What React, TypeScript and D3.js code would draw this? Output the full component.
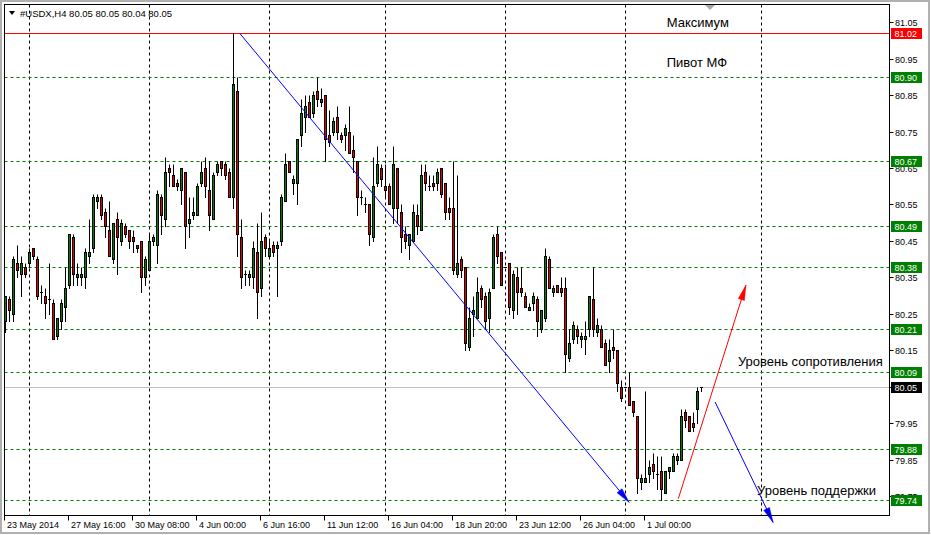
import React from "react";
import * as d3 from "d3";

const W = 931;
const H = 535;

// OHLC per H4 bar, starting 23 May 2014 00:00
const ohlc: number[][] = [
  [80.23, 80.30, 80.20, 80.30], [80.29, 80.30, 80.23, 80.26], [80.25, 80.41, 80.23, 80.40], [80.39, 80.44, 80.35, 80.37],
  [80.36, 80.41, 80.30, 80.39], [80.38, 80.39, 80.35, 80.36], [80.39, 80.43, 80.38, 80.42], [80.43, 80.43, 80.40, 80.41],
  [80.40, 80.41, 80.29, 80.30], [80.31, 80.33, 80.28, 80.31], [80.30, 80.32, 80.24, 80.28], [80.29, 80.39, 80.25, 80.29],
  [80.28, 80.29, 80.18, 80.18], [80.19, 80.24, 80.18, 80.24], [80.23, 80.29, 80.21, 80.28], [80.27, 80.38, 80.23, 80.32],
  [80.33, 80.47, 80.32, 80.47], [80.46, 80.47, 80.33, 80.36], [80.35, 80.39, 80.33, 80.36], [80.35, 80.38, 80.33, 80.36],
  [80.35, 80.43, 80.32, 80.42], [80.41, 80.51, 80.39, 80.42], [80.43, 80.58, 80.42, 80.57], [80.56, 80.58, 80.54, 80.57],
  [80.57, 80.58, 80.51, 80.52], [80.53, 80.54, 80.46, 80.49], [80.48, 80.56, 80.41, 80.41], [80.40, 80.50, 80.39, 80.50],
  [80.51, 80.53, 80.36, 80.46], [80.45, 80.51, 80.44, 80.50], [80.49, 80.50, 80.46, 80.47], [80.48, 80.48, 80.43, 80.45],
  [80.46, 80.48, 80.42, 80.45], [80.43, 80.44, 80.42, 80.44], [80.45, 80.45, 80.31, 80.35], [80.35, 80.41, 80.33, 80.40],
  [80.37, 80.47, 80.37, 80.45], [80.45, 80.47, 80.44, 80.46], [80.44, 80.59, 80.39, 80.58], [80.57, 80.58, 80.47, 80.52],
  [80.51, 80.68, 80.49, 80.64], [80.65, 80.66, 80.60, 80.64], [80.63, 80.66, 80.60, 80.60], [80.61, 80.62, 80.59, 80.60],
  [80.59, 80.65, 80.55, 80.65], [80.64, 80.64, 80.43, 80.49], [80.50, 80.57, 80.46, 80.51], [80.52, 80.57, 80.51, 80.53],
  [80.52, 80.61, 80.52, 80.60], [80.61, 80.67, 80.60, 80.64], [80.65, 80.68, 80.57, 80.60], [80.59, 80.67, 80.48, 80.52],
  [80.51, 80.64, 80.51, 80.63], [80.64, 80.67, 80.63, 80.66], [80.67, 80.67, 80.63, 80.65], [80.66, 80.67, 80.62, 80.63],
  [80.64, 80.65, 80.57, 80.57], [80.57, 81.02, 80.54, 80.88], [80.86, 80.90, 80.41, 80.47], [80.46, 80.51, 80.32, 80.35],
  [80.36, 80.37, 80.33, 80.36], [80.35, 80.37, 80.33, 80.36], [80.35, 80.45, 80.32, 80.43], [80.42, 80.50, 80.24, 80.31],
  [80.32, 80.53, 80.30, 80.45], [80.46, 80.47, 80.41, 80.43], [80.41, 80.45, 80.41, 80.43], [80.44, 80.45, 80.41, 80.42],
  [80.43, 80.45, 80.30, 80.44], [80.45, 80.58, 80.44, 80.57], [80.56, 80.69, 80.56, 80.66], [80.67, 80.67, 80.64, 80.64],
  [80.61, 80.63, 80.58, 80.62], [80.61, 80.73, 80.55, 80.73], [80.74, 80.84, 80.71, 80.80], [80.79, 80.85, 80.75, 80.82],
  [80.83, 80.85, 80.79, 80.79], [80.80, 80.86, 80.79, 80.85], [80.86, 80.90, 80.82, 80.84], [80.83, 80.87, 80.82, 80.84],
  [80.85, 80.85, 80.67, 80.73], [80.74, 80.81, 80.71, 80.72], [80.75, 80.79, 80.74, 80.78], [80.79, 80.82, 80.73, 80.75],
  [80.74, 80.75, 80.72, 80.73], [80.74, 80.77, 80.70, 80.76], [80.75, 80.82, 80.69, 80.69], [80.70, 80.74, 80.64, 80.68],
  [80.67, 80.67, 80.52, 80.57], [80.57, 80.59, 80.55, 80.57], [80.55, 80.57, 80.53, 80.55], [80.55, 80.55, 80.44, 80.47],
  [80.46, 80.68, 80.45, 80.60], [80.61, 80.71, 80.60, 80.66], [80.65, 80.66, 80.60, 80.62], [80.60, 80.66, 80.57, 80.59],
  [80.60, 80.61, 80.55, 80.55], [80.54, 80.71, 80.50, 80.66], [80.65, 80.65, 80.50, 80.54], [80.53, 80.55, 80.42, 80.46],
  [80.47, 80.49, 80.43, 80.45], [80.44, 80.47, 80.40, 80.47], [80.45, 80.55, 80.45, 80.53], [80.52, 80.55, 80.47, 80.49],
  [80.48, 80.66, 80.48, 80.63], [80.64, 80.66, 80.59, 80.61], [80.60, 80.63, 80.59, 80.60], [80.61, 80.63, 80.59, 80.60],
  [80.61, 80.65, 80.59, 80.64], [80.65, 80.65, 80.57, 80.58], [80.61, 80.61, 80.51, 80.53], [80.54, 80.57, 80.51, 80.53],
  [80.54, 80.67, 80.36, 80.37], [80.36, 80.63, 80.35, 80.39], [80.40, 80.41, 80.35, 80.37], [80.38, 80.38, 80.15, 80.17],
  [80.16, 80.27, 80.15, 80.24], [80.25, 80.30, 80.19, 80.26], [80.24, 80.35, 80.24, 80.31], [80.32, 80.33, 80.27, 80.29],
  [80.30, 80.31, 80.21, 80.23], [80.24, 80.32, 80.20, 80.31], [80.32, 80.47, 80.32, 80.46], [80.47, 80.49, 80.39, 80.41],
  [80.42, 80.42, 80.33, 80.33], [80.38, 80.38, 80.38, 80.38], [80.39, 80.39, 80.25, 80.27], [80.26, 80.37, 80.24, 80.36],
  [80.35, 80.38, 80.25, 80.31], [80.32, 80.38, 80.30, 80.31], [80.30, 80.31, 80.27, 80.27], [80.26, 80.28, 80.26, 80.27],
  [80.28, 80.31, 80.26, 80.30], [80.29, 80.30, 80.19, 80.23], [80.21, 80.26, 80.20, 80.26], [80.24, 80.43, 80.23, 80.41],
  [80.40, 80.41, 80.32, 80.32], [80.31, 80.33, 80.30, 80.32], [80.33, 80.33, 80.31, 80.31], [80.32, 80.35, 80.30, 80.31],
  [80.32, 80.35, 80.09, 80.14], [80.13, 80.21, 80.12, 80.17], [80.18, 80.23, 80.17, 80.22], [80.21, 80.22, 80.17, 80.19],
  [80.18, 80.20, 80.16, 80.19], [80.18, 80.23, 80.14, 80.19], [80.21, 80.30, 80.19, 80.30], [80.29, 80.38, 80.19, 80.21],
  [80.20, 80.24, 80.19, 80.22], [80.21, 80.22, 80.16, 80.16], [80.17, 80.18, 80.11, 80.11], [80.12, 80.18, 80.09, 80.15],
  [80.16, 80.21, 80.13, 80.15], [80.15, 80.15, 80.04, 80.06], [80.05, 80.07, 80.01, 80.02], [80.05, 80.05, 80.05, 80.05],
  [80.05, 80.09, 80.00, 80.00], [80.01, 80.01, 79.97, 79.98], [79.97, 79.97, 79.76, 79.80], [79.79, 79.81, 79.77, 79.80],
  [79.79, 80.04, 79.79, 79.80], [79.81, 79.85, 79.79, 79.83], [79.84, 79.87, 79.80, 79.82], [79.81, 79.86, 79.77, 79.81],
  [79.82, 79.86, 79.74, 79.77], [79.76, 79.82, 79.76, 79.82], [79.82, 79.83, 79.80, 79.83], [79.82, 79.87, 79.82, 79.86],
  [79.85, 79.87, 79.84, 79.86], [79.85, 79.99, 79.85, 79.97], [79.98, 79.99, 79.94, 79.96], [79.97, 79.97, 79.93, 79.93],
  [79.95, 79.98, 79.93, 79.94], [79.99, 80.05, 79.95, 80.04], [80.05, 80.05, 80.04, 80.05],
];

const maxLevel = 81.02;
const supportLevels = [80.90, 80.67, 80.49, 80.38, 80.21, 80.09, 79.88, 79.74];
const bidPrice = 80.05;
const priceTicks = [81.05, 80.95, 80.85, 80.75, 80.65, 80.55, 80.45, 80.35, 80.25, 80.15, 80.05, 79.95, 79.85, 79.75];
const timeLabels: [number, string][] = [
  [0, "23 May 2014"], [16, "27 May 16:00"], [32, "30 May 08:00"], [48, "4 Jun 00:00"],
  [64, "6 Jun 16:00"], [80, "11 Jun 12:00"], [96, "16 Jun 04:00"], [112, "18 Jun 20:00"],
  [128, "23 Jun 12:00"], [144, "26 Jun 04:00"], [160, "1 Jul 00:00"],
];
const gridBars = [6, 36, 66, 95, 125, 155, 189];
const arrowLines = [
  { from: [58.6, 81.02], to: [155.9, 79.735], color: "#0000ff" },
  { from: [168.2, 79.745], to: [185.1, 80.33], color: "#ff0000" },
  { from: [177.4, 80.01], to: [191.9, 79.68], color: "#0000ff" },
];
const notes = [
  { bar: 165.3, price: 81.039, text: "Максимум" },
  { bar: 165.3, price: 80.928, text: "Пивот МФ" },
  { bar: 183.1, price: 80.109, text: "Уровень сопротивления" },
  { bar: 187.9, price: 79.756, text: "Уровень поддержки" },
];
const title = "#USDX,H4  80.05 80.05 80.04 80.05";

const PL = 4.5, PR = 889.5, PT = 4.5, PB = 515.5;
const axisFont = "'Liberation Sans', Arial, sans-serif";

export default function App() {
  const x = d3.scaleLinear().domain([0, 1]).range([5.5, 9.5]);
  const y = d3.scaleLinear().domain([79.74, 81.02]).range([500.5, 33.5]);
  const sy = (v: number) => Math.round(y(v) - 0.5) + 0.5;

  const arrowHead = (x1: number, y1: number, x2: number, y2: number) => {
    const dx = x2 - x1, dy = y2 - y1;
    const len = Math.hypot(dx, dy);
    const ux = dx / len, uy = dy / len;
    const L = 15, w = 3.2;
    const bx = x2 - ux * L, by = y2 - uy * L;
    return `${x2},${y2} ${bx - uy * w},${by + ux * w} ${bx + uy * w},${by - ux * w}`;
  };

  return (
    <svg width={W} height={H} style={{ position: "fixed", left: 0, top: 0, background: "#fff" }}
      fontFamily={axisFont}>
      <rect x={1} y={1} width={928} height={532} fill="#fff" stroke="#b0b0b0" strokeWidth={2} />
      {/* vertical grid */}
      {gridBars.map((b) => (
        <line key={"g" + b} x1={x(b)} x2={x(b)} y1={PT} y2={PB} stroke="#000" strokeDasharray="3,3" />
      ))}
      {/* level lines */}
      {supportLevels.map((p) => (
        <line key={"l" + p} x1={PL} x2={PR} y1={sy(p)} y2={sy(p)} stroke="#008000" strokeDasharray="3,3" />
      ))}
      <line x1={PL} x2={PR} y1={sy(maxLevel)} y2={sy(maxLevel)} stroke="#ff0000" />
      <line x1={PL} x2={PR} y1={sy(bidPrice)} y2={sy(bidPrice)} stroke="#c0c0c0" />
      {/* candles */}
      {ohlc.map(([o, h, l, c], i) => {
        const cx = x(i);
        const top = sy(Math.max(o, c));
        const bot = sy(Math.min(o, c));
        const up = c >= o;
        return (
          <g key={"c" + i}>
            <line x1={cx} x2={cx} y1={sy(h)} y2={sy(l) + 0.5} stroke="#000" />
            {bot - top >= 1 ? (
              <rect x={cx - 1} y={top} width={2} height={bot - top} fill={up ? "#008000" : "#e00000"} stroke="#000" />
            ) : (
              <line x1={cx - 1.5} x2={cx + 1.5} y1={top} y2={top} stroke="#000" />
            )}
          </g>
        );
      })}
      {/* arrows */}
      {arrowLines.map((a, k) => {
        const x1 = x(a.from[0]), y1 = y(a.from[1]), x2 = x(a.to[0]), y2 = y(a.to[1]);
        return (
          <g key={"a" + k}>
            <line x1={x1} y1={y1} x2={x2} y2={y2} stroke={a.color} strokeWidth={1} />
            <polygon points={arrowHead(x1, y1, x2, y2)} fill={a.color} stroke={a.color} strokeWidth={0.5} />
          </g>
        );
      })}
      {/* notes */}
      {notes.map((n) => (
        <text key={n.text} x={x(n.bar)} y={y(n.price)} fontSize={13} fill="#000">{n.text}</text>
      ))}
      {/* frame */}
      <rect x={PL} y={PT} width={PR - PL} height={PB - PT} fill="none" stroke="#000" />
      {/* chart shift marker */}
      <polygon points="705,5 715,5 710,10" fill="#a8a8a8" />
      {/* title */}
      <polygon points="9,11 15,11 12,15" fill="#000" />
      <text x={20} y={16.5} fontSize={9.5} fill="#000">{title}</text>
      {/* price axis */}
      {priceTicks.map((p) => (
        <g key={"t" + p}>
          <line x1={PR} x2={PR + 4} y1={sy(p)} y2={sy(p)} stroke="#000" />
          <text x={895} y={sy(p) + 3.5} fontSize={9} fill="#000">{p.toFixed(2)}</text>
        </g>
      ))}
      {supportLevels.map((p) => (
        <g key={"lb" + p}>
          <rect x={891} y={sy(p) - 5.5} width={31} height={11} fill="#008000" />
          <text x={894.5} y={sy(p) + 3.5} fontSize={9} fill="#fff">{p.toFixed(2)}</text>
        </g>
      ))}
      <rect x={891} y={sy(maxLevel) - 5.5} width={31} height={11} fill="#ff0000" />
      <text x={894.5} y={sy(maxLevel) + 3.5} fontSize={9} fill="#fff">{maxLevel.toFixed(2)}</text>
      <rect x={891} y={sy(bidPrice) - 5.5} width={31} height={11} fill="#000" />
      <text x={894.5} y={sy(bidPrice) + 3.5} fontSize={9} fill="#fff">{bidPrice.toFixed(2)}</text>
      {/* time axis */}
      {timeLabels.map(([b, t]) => (
        <g key={"x" + b}>
          <line x1={Math.max(x(b) - 1, PL)} x2={Math.max(x(b) - 1, PL)} y1={PB} y2={PB + 5} stroke="#000" />
          <text x={x(b) + 1.5} y={528} fontSize={9} fill="#000">{t}</text>
        </g>
      ))}
    </svg>
  );
}
